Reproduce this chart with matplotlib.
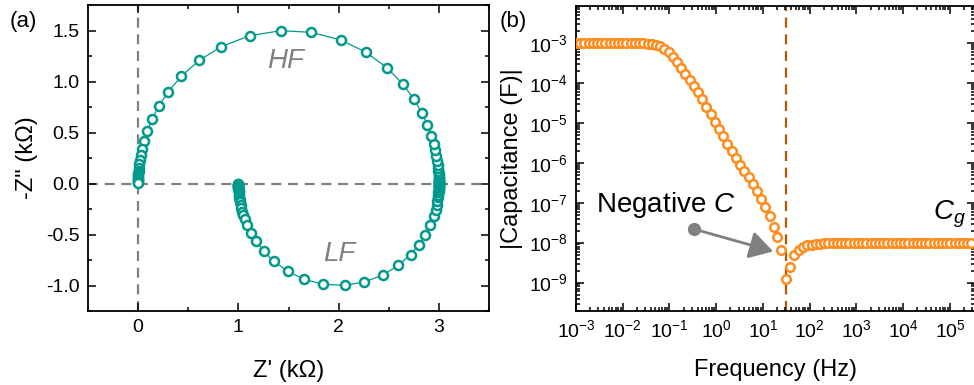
import numpy as np
import matplotlib
matplotlib.use("Agg")
import matplotlib.pyplot as plt
from matplotlib.ticker import MultipleLocator, LogLocator, NullFormatter, FixedLocator, FixedFormatter

plt.rcParams['font.family'] = ['Liberation Sans', 'DejaVu Sans']
plt.rcParams['mathtext.fontset'] = 'custom'
plt.rcParams['mathtext.rm'] = 'Liberation Sans'
plt.rcParams['mathtext.it'] = 'Liberation Sans:italic'
plt.rcParams['mathtext.default'] = 'regular'
plt.rcParams['axes.unicode_minus'] = False

# ---------------- data: Nyquist (kOhm), ordered low -> high frequency ----------------
z_real = [1.000, 1.000, 1.000, 1.000, 1.000, 1.000, 1.000, 1.001, 1.001, 1.001,
          1.002, 1.003, 1.004, 1.005, 1.007, 1.010, 1.013, 1.017, 1.023, 1.030,
          1.039, 1.050, 1.064, 1.087, 1.127, 1.176, 1.252, 1.351, 1.493, 1.658,
          1.845, 2.059, 2.257, 2.438, 2.596, 2.717, 2.800, 2.866, 2.915, 2.949,
          2.967, 2.979, 2.986, 2.991, 2.994, 2.996, 2.998, 2.998, 2.999, 2.999,
          3.000, 3.000, 3.000, 3.000, 3.000, 3.000,
          3.000, 3.000, 3.000, 3.000, 3.000, 3.000, 2.999, 2.999, 2.999, 2.999,
          2.998, 2.998, 2.997, 2.995, 2.992, 2.989, 2.983, 2.976, 2.964, 2.948,
          2.925, 2.886, 2.832, 2.749, 2.638, 2.480, 2.273, 2.026, 1.729, 1.423,
          1.112, 0.826, 0.611, 0.429, 0.300, 0.204, 0.139, 0.091, 0.060, 0.039,
          0.026, 0.018, 0.012, 0.008, 0.005, 0.003, 0.002, 0.001, 0.001, 0.000,
          0.000, 0.000, 0.000, 0.000]
z_imag_neg = [-0.003, -0.007, -0.010, -0.014, -0.017, -0.023, -0.028, -0.035, -0.042, -0.051,
              -0.061, -0.073, -0.087, -0.103, -0.120, -0.139, -0.160, -0.184, -0.211, -0.242,
              -0.276, -0.312, -0.352, -0.408, -0.488, -0.566, -0.664, -0.760, -0.862, -0.940,
              -0.988, -0.998, -0.966, -0.899, -0.803, -0.697, -0.600, -0.500, -0.404, -0.316,
              -0.255, -0.206, -0.167, -0.134, -0.108, -0.087, -0.070, -0.056, -0.045, -0.037,
              -0.030, -0.023, -0.017, -0.012, -0.007, -0.003,
              0.003, 0.005, 0.008, 0.011, 0.015, 0.020, 0.026, 0.034, 0.043, 0.054,
              0.067, 0.083, 0.102, 0.125, 0.152, 0.185, 0.225, 0.270, 0.325, 0.390,
              0.468, 0.574, 0.690, 0.830, 0.977, 1.136, 1.286, 1.405, 1.482, 1.498,
              1.449, 1.340, 1.208, 1.050, 0.900, 0.756, 0.630, 0.515, 0.420, 0.340,
              0.280, 0.230, 0.190, 0.155, 0.125, 0.100, 0.080, 0.065, 0.050, 0.040,
              0.030, 0.020, 0.012, 0.006]

# ---------------- data: |C| vs frequency (log10 values) ----------------
log_freq = [-3.00, -2.91, -2.82, -2.73, -2.64, -2.55, -2.46, -2.37, -2.28, -2.19,
            -2.10, -2.01, -1.92, -1.83, -1.74, -1.65, -1.56, -1.47, -1.38, -1.29,
            -1.20, -1.11, -1.02, -0.93, -0.84, -0.75, -0.66, -0.57, -0.48, -0.39,
            -0.30, -0.21, -0.12, -0.03, 0.06, 0.15, 0.24, 0.33, 0.42, 0.51,
            0.60, 0.69, 0.78, 0.87, 0.96, 1.05, 1.14, 1.23, 1.31, 1.39,
            1.49, 1.58, 1.67, 1.77, 1.86, 1.95, 2.04, 2.13, 2.22, 2.31,
            2.40, 2.49, 2.58, 2.67, 2.76, 2.85, 2.94, 3.03, 3.12, 3.21,
            3.30, 3.39, 3.48, 3.57, 3.66, 3.75, 3.84, 3.93, 4.02, 4.11,
            4.20, 4.29, 4.38, 4.47, 4.56, 4.65, 4.74, 4.83, 4.92, 5.01,
            5.10, 5.19, 5.28, 5.37, 5.46]
log_cap = [-3.000, -3.000, -3.000, -3.000, -3.000, -3.000, -3.000, -3.000, -3.000, -3.000,
           -3.000, -3.000, -3.000, -3.000, -3.000, -3.005, -3.010, -3.020, -3.035, -3.055,
           -3.090, -3.160, -3.240, -3.350, -3.480, -3.620, -3.770, -3.920, -4.070, -4.230,
           -4.410, -4.600, -4.790, -4.970, -5.150, -5.330, -5.520, -5.700, -5.880, -6.050,
           -6.200, -6.360, -6.530, -6.710, -6.900, -7.100, -7.330, -7.600, -7.850, -8.180,
           -8.910, -8.600, -8.320, -8.180, -8.110, -8.070, -8.050, -8.035, -8.025, -8.020,
           -8.015, -8.015, -8.015, -8.015, -8.015, -8.015, -8.015, -8.015, -8.015, -8.015,
           -8.015, -8.015, -8.015, -8.015, -8.015, -8.015, -8.015, -8.015, -8.015, -8.015,
           -8.015, -8.015, -8.015, -8.015, -8.015, -8.015, -8.015, -8.015, -8.015, -8.015,
           -8.015, -8.015, -8.015, -8.015, -8.015]
f_sign_change = 30.6  # Hz, dashed line

freq = 10.0 ** np.array(log_freq)
cap = 10.0 ** np.array(log_cap)

teal = '#00998c'
orange = '#ff8c1e'
brown = '#b35a00'
gray = '#808080'

fig = plt.figure(figsize=(9.74, 3.85), dpi=100)
ax1 = fig.add_axes([88/974, 1-311/385, (489-88)/974, (311-5)/385])
ax2 = fig.add_axes([576/974, 1-311/385, (975-576)/974, (311-6)/385])

# ---------------- panel (a) ----------------
ax1.axhline(0, color=gray, lw=1.6, ls=(0, (4.5, 3)), zorder=1)
ax1.axvline(0, color=gray, lw=1.6, ls=(0, (4.5, 3)), zorder=1)
ax1.plot(z_real, z_imag_neg, '-', color=teal, lw=0.9, marker='o', ms=6.5,
         mfc='white', mec=teal, mew=1.8, zorder=3)
ax1.set_xlim(-0.5, 3.5)
ax1.set_ylim(-1.25, 1.75)
ax1.xaxis.set_major_locator(MultipleLocator(1))
ax1.xaxis.set_minor_locator(MultipleLocator(0.5))
ax1.yaxis.set_major_locator(FixedLocator([-1.0, -0.5, 0.0, 0.5, 1.0, 1.5]))
ax1.yaxis.set_minor_locator(MultipleLocator(0.25))
ax1.set_yticklabels(['-1.0', '-0.5', '0.0', '0.5', '1.0', '1.5'])
ax1.set_xlabel("Z' (k\u03a9)", fontsize=17, labelpad=17)
ax1.set_ylabel('-Z" (k\u03a9)', fontsize=17, labelpad=6)
ax1.text(1.47, 1.2, 'HF', fontsize=20, style='italic', color=gray, ha='center', va='center')
ax1.text(2.01, -0.69, 'LF', fontsize=20, style='italic', color=gray, ha='center', va='center')

# ---------------- panel (b) ----------------
ax2.set_xscale('log')
ax2.set_yscale('log')
ax2.axvline(f_sign_change, color=brown, lw=1.6, ls=(0, (4.5, 3)), zorder=1)
ax2.plot(freq, cap, 'o', color=orange, ms=6.2, mfc='white', mec=orange, mew=1.8, zorder=3)
ax2.set_xlim(1e-3, 10**5.535)
ax2.set_ylim(10**-9.71, 10**-2.08)
xt = [10.0**k for k in range(-3, 6)]
ax2.xaxis.set_major_locator(FixedLocator(xt))
ax2.xaxis.set_major_formatter(FixedFormatter(['$10^{%d}$' % k for k in range(-3, 6)]))
ax2.xaxis.set_minor_locator(LogLocator(base=10, subs=np.arange(2, 10), numticks=30))
ax2.xaxis.set_minor_formatter(NullFormatter())
yt = [10.0**k for k in range(-9, -2)]
ax2.yaxis.set_major_locator(FixedLocator(yt))
ax2.yaxis.set_major_formatter(FixedFormatter(['$10^{%d}$' % k for k in range(-9, -2)]))
ax2.yaxis.set_minor_locator(LogLocator(base=10, subs=np.arange(2, 10), numticks=30))
ax2.yaxis.set_minor_formatter(NullFormatter())
ax2.set_xlabel('Frequency (Hz)', fontsize=17, labelpad=13)
ax2.set_ylabel('|Capacitance (F)|', fontsize=17, labelpad=4)

ax2.text(10**-2.57, 10**-7.23, 'Negative $\\mathit{C}$', fontsize=20, ha='left', va='baseline')
ax2.text(10**4.64, 10**-7.43, '$\\mathit{C}_{\\mathit{g}}$', fontsize=20, ha='left', va='baseline')
ax2.plot([10**-0.476], [10**-7.66], 'o', color=gray, ms=8.5, zorder=4)
ax2.annotate('', xy=(10**1.22, 10**-8.22), xytext=(10**-0.476, 10**-7.66),
             arrowprops=dict(arrowstyle='-|>,head_length=0.6,head_width=0.35', color=gray,
                             lw=2, mutation_scale=24, shrinkA=0, shrinkB=0), zorder=4)

for ax in (ax1, ax2):
    for s in ax.spines.values():
        s.set_linewidth(1.3)
    ax.tick_params(which='both', direction='in', top=True, right=True, width=1.1)
    ax.tick_params(which='major', length=5.5, labelsize=14, pad=6)
    ax.tick_params(which='minor', length=3)

fig.text(10/974, 1-21/385, '(a)', fontsize=16, va='center', ha='left')
fig.text(500/974, 1-21/385, '(b)', fontsize=16, va='center', ha='left')

fig.savefig('out.png', dpi=100)
